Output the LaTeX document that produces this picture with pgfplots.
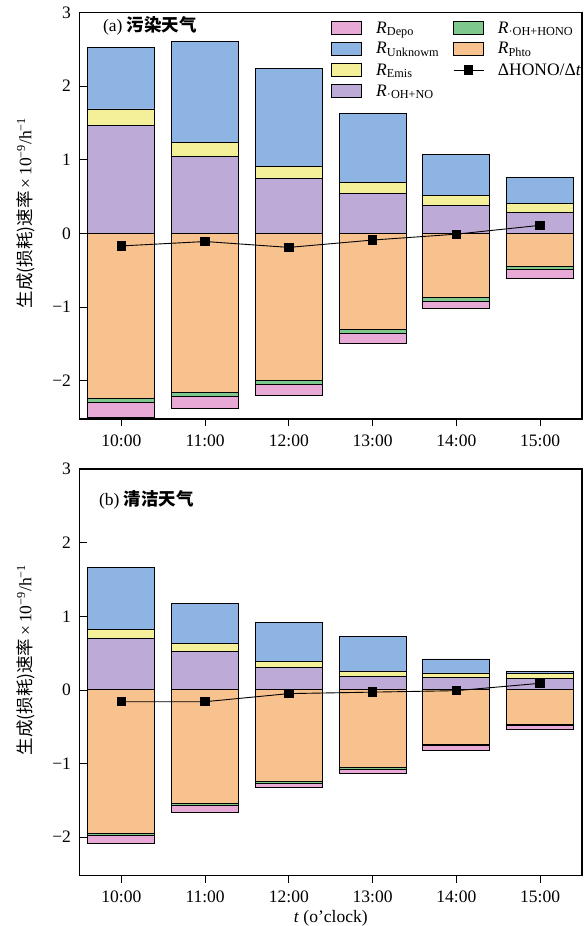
\documentclass[border=0pt]{standalone}
\usepackage{fontspec}
\setmainfont{Liberation Serif}
\newfontfamily\cjk{Noto Sans CJK SC}
\usepackage{pgfplots}
\pgfplotsset{compat=1.18}

\definecolor{cPink}{RGB}{233,169,214}
\definecolor{cBlue}{RGB}{142,180,227}
\definecolor{cYellow}{RGB}{244,240,154}
\definecolor{cPurple}{RGB}{190,170,214}
\definecolor{cGreen}{RGB}{125,200,140}
\definecolor{cOrange}{RGB}{248,194,142}

\newcommand{\fs}{\fontsize{17.5}{20}\selectfont}

\pgfplotsset{
  myaxis/.style={
    scale only axis, width=502.5pt, height=406.5pt,
    xmin=-0.5, xmax=5.5, ymin=-2.52, ymax=3,
    xtick={0,...,5}, xticklabels={10:00,11:00,12:00,13:00,14:00,15:00},
    ytick={-2,...,3}, yticklabels={−2,−1,0,1,2,3},
    tick align=inside, xtick pos=left, ytick pos=left,
    major tick length=7pt,
    tick style={black, line width=0.8pt},
    axis line style={line width=1.1pt},
    tick label style={font=\fs},
    xticklabel style={yshift=-5pt},
    yticklabel style={xshift=-5pt},
    label style={font=\fs},
    ybar, bar width=0.8, bar shift=0pt,
  },
  seg/.style={fill=#1, draw=black, line width=0.9pt, forget plot},
  hono/.style={sharp plot, black, line width=0.9pt, mark=square*, mark size=4.2pt, forget plot},
  areaimg/.style={legend image code/.code={\draw[##1] (0pt,-6.5pt) rectangle (30pt,6.5pt);}},
  lineimg/.style={legend image code/.code={\draw[mark repeat=2, mark phase=2, ##1] plot coordinates {(0pt,0pt) (15pt,0pt) (30pt,0pt)};}},
}

\begin{document}
\begin{tikzpicture}
\useasboundingbox (0,0) rectangle (584pt,926pt);

% ---------------- (a) polluted ----------------
\begin{axis}[myaxis, at={(79.5pt,507pt)}, anchor=south west,
  ylabel={{\cjk 生成(损耗)速率}\,×\,10\textsuperscript{−9}/h\textsuperscript{−1}},
  ylabel style={at={(axis description cs:-0.107,0.507)}, anchor=center},
  legend columns=2,
  legend style={at={(rel axis cs:0.495,0.988)}, anchor=north west, draw=none, fill=none,
    font=\fs, column sep=12pt, row sep=4pt, cells={anchor=west}},
]
% cumulative tops of positive stack (R_OH+NO, +R_Emis, +R_Unknown)
\addplot[seg=cBlue]   coordinates {(0,2.53) (1,2.61) (2,2.24) (3,1.63) (4,1.07) (5,0.755)};
\addplot[seg=cYellow] coordinates {(0,1.69) (1,1.24) (2,0.91) (3,0.69) (4,0.51) (5,0.41)};
\addplot[seg=cPurple] coordinates {(0,1.46) (1,1.05) (2,0.75) (3,0.54) (4,0.38) (5,0.28)};
% cumulative bottoms of negative stack (R_Phto, +R_OH+HONO, +R_Depo)
\addplot[seg=cPink]   coordinates {(0,-2.50) (1,-2.38) (2,-2.20) (3,-1.49) (4,-1.02) (5,-0.61)};
\addplot[seg=cGreen]  coordinates {(0,-2.29) (1,-2.21) (2,-2.05) (3,-1.36) (4,-0.92) (5,-0.49)};
\addplot[seg=cOrange] coordinates {(0,-2.24) (1,-2.16) (2,-2.00) (3,-1.31) (4,-0.87) (5,-0.45)};
\addplot[hono] coordinates {(0,-0.17) (1,-0.11) (2,-0.19) (3,-0.09) (4,-0.01) (5,0.11)};

\addlegendimage{areaimg, fill=cPink, draw=black, line width=0.8pt}
\addlegendentry{\textit{R}\textsubscript{Depo}}
\addlegendimage{areaimg, fill=cGreen, draw=black, line width=0.8pt}
\addlegendentry{\textit{R}\textsubscript{·OH+HONO}}
\addlegendimage{areaimg, fill=cBlue, draw=black, line width=0.8pt}
\addlegendentry{\textit{R}\textsubscript{Unknowm}}
\addlegendimage{areaimg, fill=cOrange, draw=black, line width=0.8pt}
\addlegendentry{\textit{R}\textsubscript{Phto}}
\addlegendimage{areaimg, fill=cYellow, draw=black, line width=0.8pt}
\addlegendentry{\textit{R}\textsubscript{Emis}}
\addlegendimage{lineimg, sharp plot, black, line width=0.8pt, mark=square*, mark size=4.2pt}
\addlegendentry{ΔHONO/Δ\textit{t}}
\addlegendimage{areaimg, fill=cPurple, draw=black, line width=0.8pt}
\addlegendentry{\textit{R}\textsubscript{·OH+NO}}

\node[anchor=west, font=\fs] at (rel axis cs:0.04,0.966) {(a) {\cjk\bfseries 污染天气}};
\end{axis}

% ---------------- (b) clean ----------------
\begin{axis}[myaxis, at={(79.5pt,50.5pt)}, anchor=south west,
  ylabel={{\cjk 生成(损耗)速率}\,×\,10\textsuperscript{−9}/h\textsuperscript{−1}},
  ylabel style={at={(axis description cs:-0.107,0.53)}, anchor=center},
  xlabel={\textit{t} (o’clock)},
  xlabel style={at={(axis description cs:0.5,-0.105)}, anchor=center},
]
\addplot[seg=cBlue]   coordinates {(0,1.66) (1,1.18) (2,0.91) (3,0.72) (4,0.42) (5,0.255)};
\addplot[seg=cYellow] coordinates {(0,0.82) (1,0.63) (2,0.38) (3,0.25) (4,0.23) (5,0.22)};
\addplot[seg=cPurple] coordinates {(0,0.70) (1,0.525) (2,0.31) (3,0.18) (4,0.17) (5,0.16)};
\addplot[seg=cPink]   coordinates {(0,-2.09) (1,-1.66) (2,-1.32) (3,-1.14) (4,-0.82) (5,-0.53)};
\addplot[seg=cGreen]  coordinates {(0,-1.98) (1,-1.57) (2,-1.265) (3,-1.075) (4,-0.76) (5,-0.48)};
\addplot[seg=cOrange] coordinates {(0,-1.95) (1,-1.54) (2,-1.24) (3,-1.05) (4,-0.74) (5,-0.465)};
\addplot[hono] coordinates {(0,-0.16) (1,-0.16) (2,-0.05) (3,-0.03) (4,-0.01) (5,0.09)};

\node[anchor=west, font=\fs] at (rel axis cs:0.032,0.924) {(b) {\cjk\bfseries 清洁天气}};
\end{axis}
\end{tikzpicture}
\end{document}
